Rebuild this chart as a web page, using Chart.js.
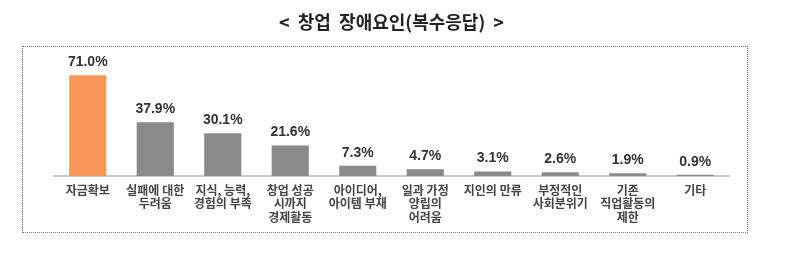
<!DOCTYPE html>
<html>
<head>
<meta charset="utf-8">
<script src="https://cdn.jsdelivr.net/npm/chart.js@4"></script>
<style>
    body { margin: 0; background: #fff; }
    #wrap { position: relative; width: 789px; height: 266px; }
    #frame {
        position: absolute; left: 22px; top: 46px; width: 724px; height: 185px;
        border: 1px dotted #777;
    }
    canvas { position: absolute; left: 0; top: 0; }
</style>
</head>
<body>
<div id="wrap">
    <div id="frame"></div>
    <canvas id="chart" width="789" height="266"></canvas>
</div>
<script>
const categories = [
    "자금확보",
    ["실패에 대한", "두려움"],
    ["지식, 능력,", "경험의 부족"],
    ["창업 성공", "시까지", "경제활동"],
    ["아이디어,", "아이템 부재"],
    ["일과 가정", "양립의", "어려움"],
    "지인의 만류",
    ["부정적인", "사회분위기"],
    ["기존", "직업활동의", "제한"],
    "기타"
];
const values = [71.0, 37.9, 30.1, 21.6, 7.3, 4.7, 3.1, 2.6, 1.9, 0.9];
const titleText = "<  창업  장애요인(복수응답)  >";

const barColors = values.map((v, i) => i === 0 ? "#F79658" : "#8A8A8A");

const valueLabels = {
    id: "valueLabels",
    afterDatasetsDraw(chart) {
        const ctx = chart.ctx;
        const meta = chart.getDatasetMeta(0);
        ctx.save();
        ctx.font = "bold 14px 'Liberation Sans', Arial, sans-serif";
        ctx.fillStyle = "#333";
        ctx.textAlign = "center";
        ctx.textBaseline = "middle";
        meta.data.forEach((bar, i) => {
            ctx.fillText(values[i].toFixed(1) + "%", bar.x, bar.y - 13);
        });
        ctx.restore();
    }
};

new Chart(document.getElementById("chart").getContext("2d"), {
    type: "bar",
    data: {
        labels: categories,
        datasets: [{
            data: values,
            backgroundColor: barColors,
            barPercentage: 0.55,
            categoryPercentage: 1.0
        }]
    },
    options: {
        responsive: false,
        animation: false,
        layout: { padding: { left: 54, right: 60, top: 0, bottom: 0 } },
        plugins: {
            legend: { display: false },
            tooltip: { enabled: false },
            title: {
                display: true,
                text: titleText,
                color: "#222",
                font: { family: "'Noto Sans CJK KR', sans-serif", size: 18, weight: "bold" },
                padding: { top: 11, bottom: 30 }
            }
        },
        scales: {
            x: {
                grid: { display: false, drawTicks: false },
                border: { display: true, color: "#c9c9c9", width: 2 },
                ticks: {
                    color: "#444",
                    padding: 8,
                    maxRotation: 0,
                    autoSkip: false,
                    font: { family: "'Noto Sans CJK KR', sans-serif", size: 12, weight: "bold", lineHeight: 1.1 }
                },
                afterFit: scale => { scale.height = 90; }
            },
            y: {
                display: false,
                min: 0,
                max: 80
            }
        }
    },
    plugins: [valueLabels]
});
</script>
</body>
</html>
